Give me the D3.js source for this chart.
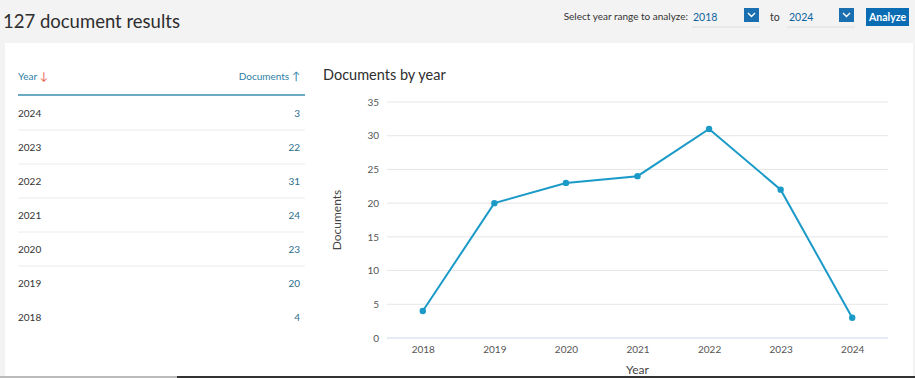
<!DOCTYPE html>
<html>
<head>
<meta charset="utf-8">
<script src="https://cdn.jsdelivr.net/npm/d3@7"></script>
<style>
  body { margin: 0; background: #f3f3f3; }
  svg { display: block; font-family: Lato, "Open Sans", sans-serif; }
</style>
</head>
<body>
<svg id="page" width="915" height="378"></svg>
<script>
// Documents by year
const years = ['2018', '2019', '2020', '2021', '2022', '2023', '2024'];
const docCounts = [4, 20, 23, 24, 31, 22, 3];
const yTicks = [0, 5, 10, 15, 20, 25, 30, 35];

const svg = d3.select('#page');

// page background + white card
svg.append('rect').attr('width', 915).attr('height', 378).attr('fill', '#f3f3f3');
svg.append('rect').attr('x', 5).attr('y', 43).attr('width', 908).attr('height', 333).attr('fill', '#fff');

// header
svg.append('text').attr('x', 3).attr('y', 28)
  .attr('font-size', 18.5).attr('fill', '#2e2e2e').text('127 document results');

svg.append('text').attr('x', 688).attr('y', 20).attr('text-anchor', 'end')
  .attr('font-size', 10).attr('fill', '#333').text('Select year range to analyze:');
svg.append('text').attr('x', 693).attr('y', 21)
  .attr('font-size', 10.5).attr('fill', '#0b64a0').text('2018');
svg.append('line').attr('x1', 692).attr('x2', 760).attr('y1', 27).attr('y2', 27).attr('stroke', '#ddd');
svg.append('text').attr('x', 770).attr('y', 21)
  .attr('font-size', 10.5).attr('fill', '#333').text('to');
svg.append('text').attr('x', 789).attr('y', 21)
  .attr('font-size', 10.5).attr('fill', '#0b64a0').text('2024');
svg.append('line').attr('x1', 787).attr('x2', 855).attr('y1', 27).attr('y2', 27).attr('stroke', '#ddd');

[744, 839].forEach(x => {
  svg.append('rect').attr('x', x).attr('y', 8).attr('width', 15).attr('height', 14).attr('fill', '#1a6fb0');
  svg.append('path').attr('d', `M${x + 4},${13} L${x + 7.5},${16.5} L${x + 11},${13}`)
    .attr('fill', 'none').attr('stroke', '#fff').attr('stroke-width', 1.4);
});
svg.append('rect').attr('x', 866).attr('y', 8).attr('width', 43).attr('height', 18).attr('fill', '#0a6db3');
svg.append('text').attr('x', 887.5).attr('y', 21).attr('text-anchor', 'middle')
  .attr('font-size', 10.5).attr('font-weight', 'bold').attr('fill', '#fff').text('Analyze');

// table
const table = svg.append('g');
table.append('text').attr('x', 18).attr('y', 80)
  .attr('font-size', 10).attr('fill', '#2d7fa6')
  .text('Year ').append('tspan').attr('fill', '#e8604c').attr('font-size', 11).text('↓');
table.append('text').attr('x', 300).attr('y', 80).attr('text-anchor', 'end')
  .attr('font-size', 10).attr('fill', '#2d7fa6')
  .text('Documents ').append('tspan').attr('font-size', 11).text('↑');
table.append('line').attr('x1', 18).attr('x2', 305).attr('y1', 95).attr('y2', 95)
  .attr('stroke', '#6aaac4').attr('stroke-width', 2);

const rowData = years.map((y, i) => ({ year: y, count: docCounts[i] })).reverse();
const rowY = d3.scaleBand().domain(rowData.map(d => d.year)).range([96, 334]);

const rows = table.selectAll('.row').data(rowData).enter().append('g')
  .attr('transform', d => `translate(0,${rowY(d.year)})`);
rows.append('text').attr('x', 18).attr('y', rowY.bandwidth() / 2 + 3.5)
  .attr('font-size', 10).attr('fill', '#333').text(d => d.year);
rows.append('text').attr('x', 300).attr('y', rowY.bandwidth() / 2 + 3.5).attr('text-anchor', 'end')
  .attr('font-size', 10).attr('fill', '#2a6d8c').text(d => d.count);
rows.filter((d, i) => i < rowData.length - 2).append('line')
  .attr('x1', 18).attr('x2', 305).attr('y1', rowY.bandwidth()).attr('y2', rowY.bandwidth())
  .attr('stroke', '#ececec');

// chart
svg.append('text').attr('x', 323).attr('y', 80)
  .attr('font-size', 14.5).attr('fill', '#2e2e2e').text('Documents by year');

const x = d3.scalePoint().domain(years).range([387, 888]).padding(0.5);
const y = d3.scaleLinear().domain([0, 35]).range([338, 102]);

const grid = svg.append('g');
grid.selectAll('line').data(yTicks.filter(t => t > 0)).enter().append('line')
  .attr('x1', 387).attr('x2', 888)
  .attr('y1', d => y(d)).attr('y2', d => y(d))
  .attr('stroke', '#e6e6e6');
svg.append('line').attr('x1', 387).attr('x2', 888).attr('y1', y(0)).attr('y2', y(0))
  .attr('stroke', '#ccd6eb');

const yAxis = svg.append('g').attr('transform', 'translate(379,0)')
  .call(d3.axisLeft(y).tickValues(yTicks).tickSize(0).tickPadding(0));
yAxis.select('.domain').remove();
yAxis.selectAll('text').attr('font-size', 10).attr('fill', '#555').attr('font-family', 'Lato, sans-serif');

const xAxis = svg.append('g').attr('transform', `translate(0,${y(0)})`)
  .call(d3.axisBottom(x).tickSize(0).tickPadding(8));
xAxis.select('.domain').remove();
xAxis.selectAll('text').attr('font-size', 10).attr('fill', '#555').attr('font-family', 'Lato, sans-serif');

svg.append('text').attr('x', x('2021')).attr('y', 374).attr('text-anchor', 'middle')
  .attr('font-size', 12).attr('fill', '#444').text('Year');
svg.append('text').attr('transform', 'translate(341,220) rotate(-90)').attr('text-anchor', 'middle')
  .attr('font-size', 12).attr('fill', '#444').text('Documents');

const series = years.map((yr, i) => ({ year: yr, value: docCounts[i] }));
svg.append('path').datum(series)
  .attr('fill', 'none').attr('stroke', '#1b9ac8').attr('stroke-width', 2)
  .attr('d', d3.line().x(d => x(d.year)).y(d => y(d.value)));
svg.selectAll('.pt').data(series).enter().append('circle')
  .attr('cx', d => x(d.year)).attr('cy', d => y(d.value)).attr('r', 3.2)
  .attr('fill', '#1b9ac8');

// bottom screenshot edge
svg.append('rect').attr('x', 0).attr('y', 376).attr('width', 177).attr('height', 2).attr('fill', '#bbb');
svg.append('rect').attr('x', 177).attr('y', 376).attr('width', 738).attr('height', 2).attr('fill', '#333');
</script>
</body>
</html>
